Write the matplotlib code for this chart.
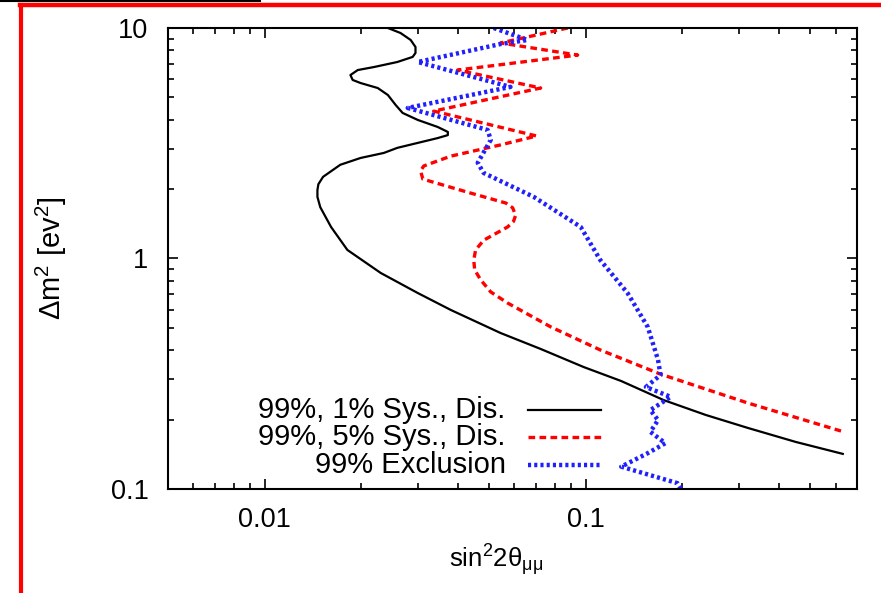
import matplotlib
matplotlib.use("Agg")
import matplotlib.pyplot as plt
from matplotlib.lines import Line2D
from matplotlib.ticker import LogLocator, NullFormatter, FixedLocator, FixedFormatter

plt.rcParams["font.family"] = ["Liberation Sans", "DejaVu Sans"]
plt.rcParams["font.size"] = 19
plt.rcParams["mathtext.fontset"] = "custom"
plt.rcParams["mathtext.rm"] = "Liberation Sans"
plt.rcParams["mathtext.it"] = "Liberation Sans"

# 99%, 1% syst., disappearance
sys1_x = [0.0242, 0.0265, 0.0285, 0.0295, 0.0295, 0.0289, 0.0259, 0.0219, 0.0195,
          0.0185, 0.0188, 0.0199, 0.0225, 0.0242, 0.0256, 0.0269, 0.0300, 0.0346,
          0.0372, 0.0372, 0.0346, 0.0259, 0.0235, 0.0199, 0.0172, 0.0152, 0.0147,
          0.0146, 0.0146, 0.0149, 0.0161, 0.0181, 0.0230, 0.0300, 0.0380, 0.0543,
          0.0724, 0.0986, 0.129, 0.175, 0.2365, 0.320, 0.451, 0.632]
sys1_y = [10.0, 9.51, 8.87, 8.27, 7.79, 7.49, 7.12, 6.77, 6.57,
          6.25, 5.95, 5.77, 5.49, 5.12, 4.63, 4.28, 3.99, 3.72,
          3.54, 3.43, 3.33, 3.02, 2.87, 2.73, 2.55, 2.26, 2.10,
          1.98, 1.85, 1.67, 1.37, 1.089, 0.865, 0.708, 0.598, 0.475,
          0.405, 0.338, 0.294, 0.243, 0.2095, 0.184, 0.160, 0.142]

# 99%, 5% syst., disappearance
sys5_x = [0.0879, 0.0543, 0.0944, 0.0399, 0.0724, 0.0336, 0.0703, 0.0543, 0.0380,
          0.0313, 0.0306, 0.0311, 0.0428, 0.0564, 0.0592, 0.0605, 0.0596, 0.0571,
          0.0481, 0.0454, 0.0448, 0.0451, 0.0471, 0.0506, 0.0571, 0.0778, 0.111,
          0.171, 0.320, 0.636]
sys5_y = [10.0, 8.61, 7.63, 6.57, 5.49, 4.36, 3.40, 3.11, 2.78,
          2.52, 2.40, 2.21, 1.94, 1.74, 1.66, 1.54, 1.45, 1.37,
          1.20, 1.089, 0.985, 0.892, 0.807, 0.716, 0.641, 0.505, 0.401,
          0.315, 0.236, 0.177]

# 99% exclusion
excl_x = [0.0517, 0.0659, 0.0543, 0.0300, 0.0583, 0.0279, 0.0495, 0.0506, 0.0461,
          0.0481, 0.0689, 0.0965, 0.111, 0.135, 0.156, 0.168, 0.171, 0.154,
          0.184, 0.159, 0.168, 0.159, 0.177, 0.156, 0.129, 0.193, 0.198]
excl_y = [10.0, 8.87, 8.52, 7.12, 5.55, 4.50, 3.61, 3.27, 2.60,
          2.35, 1.85, 1.37, 0.985, 0.708, 0.505, 0.363, 0.312, 0.277,
          0.251, 0.220, 0.199, 0.177, 0.158, 0.143, 0.125, 0.106, 0.100]

labels = ["99%, 1% Sys., Dis.", "99%, 5% Sys., Dis.", "99% Exclusion"]
x_ticks = [0.01, 0.1]
x_ticklabels = ["0.01", "0.1"]
y_ticks = [0.1, 1, 10]
y_ticklabels = ["0.1", "1", "10"]

fig = plt.figure(figsize=(8.81, 5.93), dpi=100)
ax = fig.add_axes([0.1907, 0.1754, 0.7821, 0.7774])

styles = [
    dict(color="black", linewidth=1.6, linestyle="-"),
    dict(color="#ff0000", linewidth=2.4, linestyle=(0, (2.0, 1.3))),
    dict(color="#2020ff", linewidth=3.2, linestyle=(0, (0.7, 0.7))),
]
for (xs, ys), st in zip([(sys1_x, sys1_y), (sys5_x, sys5_y), (excl_x, excl_y)], styles):
    ax.plot(xs, ys, **st)

ax.set_xscale("log")
ax.set_yscale("log")
ax.set_xlim(0.005, 0.7)
ax.set_ylim(0.1, 10)

ax.xaxis.set_major_locator(FixedLocator(x_ticks))
ax.xaxis.set_major_formatter(FixedFormatter(x_ticklabels))
ax.yaxis.set_major_locator(FixedLocator(y_ticks))
ax.yaxis.set_major_formatter(FixedFormatter(y_ticklabels))
for a in (ax.xaxis, ax.yaxis):
    a.set_minor_locator(LogLocator(base=10, subs=range(2, 10)))
    a.set_minor_formatter(NullFormatter())

ax.tick_params(which="both", direction="in", top=True, right=True, width=1.2)
ax.tick_params(which="major", length=7)
ax.tick_params(which="minor", length=4)
ax.tick_params(axis="x", pad=13, labelsize=19.5)
ax.tick_params(axis="y", pad=14, labelsize=19.5)
for s in ax.spines.values():
    s.set_linewidth(1.5)

ax.set_xlabel(r"$\mathregular{sin^2 2\theta_{\mu\mu}}$", fontsize=18.5)
ax.xaxis.set_label_coords(0.476, -0.115)
ax.set_ylabel(r"$\mathregular{\Delta m^2\ [ev^2]}$", fontsize=21, labelpad=30)

# legend drawn by hand: right-aligned text followed by a line sample
for i, (lab, st) in enumerate(zip(labels, styles)):
    yy = 0.172 - i * 0.06
    ax.text(0.490, yy, lab, transform=ax.transAxes, ha="right", va="center", fontsize=21)
    ax.plot([0.523, 0.628], [yy, yy], transform=ax.transAxes, **st)

# red frame and black strip from the screenshot
fig.add_artist(Line2D([20 / 881, 1], [1 - 5 / 593, 1 - 5 / 593], color="red", linewidth=3.2))
fig.add_artist(Line2D([20.5 / 881, 20.5 / 881], [0, 1 - 5 / 593], color="red", linewidth=3.0))
fig.add_artist(Line2D([0, 260 / 881], [1 - 0.8 / 593, 1 - 0.8 / 593], color="black", linewidth=1.5))

fig.savefig("out.png", dpi=100)
